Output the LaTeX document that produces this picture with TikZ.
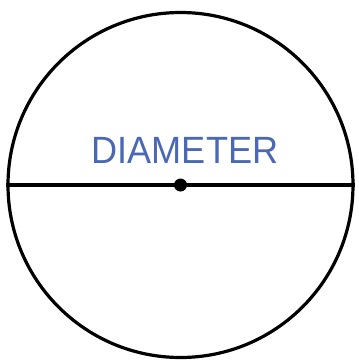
\documentclass[tikz,border=0pt]{standalone}
\usepackage{fontspec}
\setmainfont{Liberation Sans}
\definecolor{labelblue}{HTML}{4A68B4}
\begin{document}
\begin{tikzpicture}[x=1pt,y=-1pt,
  rim/.style={line width=3.2pt,black},
  label/.style={text=labelblue,font=\fontsize{38}{40}\selectfont,inner sep=0pt,anchor=base}]
\useasboundingbox (0,0) rectangle (359,360);
\coordinate (c) at (180.5,185);
\node[draw,rim,circle,minimum size=345pt,inner sep=0pt] (circ) at (c) {};
\coordinate (l) at (circ.west);
\coordinate (r) at (circ.east);
\draw[rim] (l) -- (r);
\fill (c) circle (6.5);
\node[label,xscale=0.95] (t) at (185,163) {DIAMETER};
\end{tikzpicture}
\end{document}
